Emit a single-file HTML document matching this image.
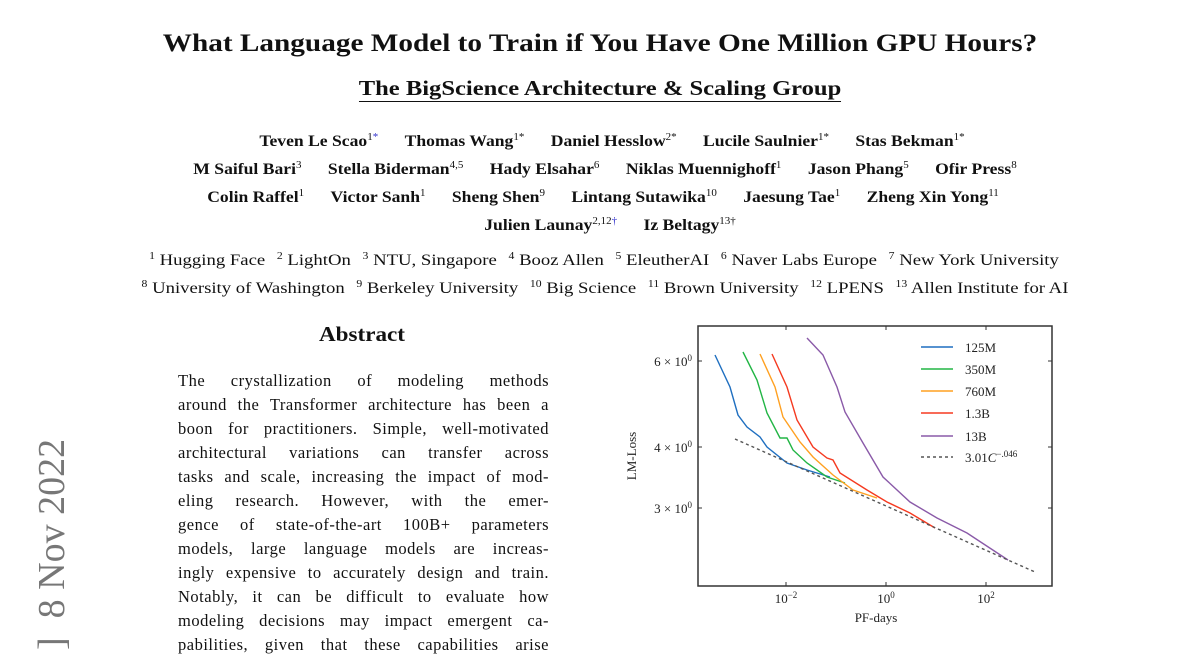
<!DOCTYPE html>
<html><head><meta charset="utf-8"><style>
body{margin:0;width:1200px;height:648px;background:#fff;overflow:hidden;position:relative;font-family:"Liberation Serif",serif;color:#111}
.c{position:absolute;left:0;width:1200px;text-align:center;white-space:nowrap;transform-origin:600px 0}
.t{font-weight:bold;font-size:25px;top:30px;transform:scaleX(1.17)}
.s{font-weight:bold;font-size:21px;top:76px;transform:scaleX(1.17)}
.s span{border-bottom:1.5px solid #111;padding-bottom:1px}
.a{font-weight:bold;font-size:16px;transform:scaleX(1.1)}
.a span{margin:0 12px}
sup{font-weight:normal;font-size:10px;vertical-align:6px;line-height:0}
.b{color:#33c}
.f{font-size:16px;transform:scaleX(1.17)}
.f span{margin:0 5px}
.abs{position:absolute;left:178px;width:371px;font-size:16.5px;line-height:24px;top:369px;letter-spacing:0.5px}
.abs div{text-align:justify;text-align-last:justify;height:24px;white-space:nowrap}
.date{position:absolute;left:30px;top:650px;transform:rotate(-90deg);transform-origin:0 0;font-size:38px;color:#777;white-space:nowrap}
</style></head><body>
<div class="c t">What Language Model to Train if You Have One Million GPU Hours?</div>
<div class="c s"><span>The BigScience Architecture &amp; Scaling Group</span></div>
<div class="c a" style="top:133px;left:12px"><span>Teven Le Scao<sup>1<span class="b" style="margin:0">*</span></sup></span><span>Thomas Wang<sup>1*</sup></span><span>Daniel Hesslow<sup>2*</sup></span><span>Lucile Saulnier<sup>1*</sup></span><span>Stas Bekman<sup>1*</sup></span></div>
<div class="c a" style="top:161px;left:5px"><span>M Saiful Bari<sup>3</sup></span><span>Stella Biderman<sup>4,5</sup></span><span>Hady Elsahar<sup>6</sup></span><span>Niklas Muennighoff<sup>1</sup></span><span>Jason Phang<sup>5</sup></span><span>Ofir Press<sup>8</sup></span></div>
<div class="c a" style="top:189px;left:3px"><span>Colin Raffel<sup>1</sup></span><span>Victor Sanh<sup>1</sup></span><span>Sheng Shen<sup>9</sup></span><span>Lintang Sutawika<sup>10</sup></span><span>Jaesung Tae<sup>1</sup></span><span>Zheng Xin Yong<sup>11</sup></span></div>
<div class="c a" style="top:217px;left:10px"><span>Julien Launay<sup>2,12<span class="b" style="margin:0">†</span></sup></span><span>Iz Beltagy<sup>13†</sup></span></div>
<div class="c f" style="top:252px;left:4px"><span><sup>1</sup> Hugging Face</span><span><sup>2</sup> LightOn</span><span><sup>3</sup> NTU, Singapore</span><span><sup>4</sup> Booz Allen</span><span><sup>5</sup> EleutherAI</span><span><sup>6</sup> Naver Labs Europe</span><span><sup>7</sup> New York University</span></div>
<div class="c f" style="top:280px;left:5px"><span><sup>8</sup> University of Washington</span><span><sup>9</sup> Berkeley University</span><span><sup>10</sup> Big Science</span><span><sup>11</sup> Brown University</span><span><sup>12</sup> LPENS</span><span><sup>13</sup> Allen Institute for AI</span></div>
<div style="position:absolute;left:319px;top:322px;font-weight:bold;font-size:21px;transform:scaleX(1.1);transform-origin:0 0">Abstract</div>
<div class="abs">
<div>The crystallization of modeling methods</div>
<div>around the Transformer architecture has been a</div>
<div>boon for practitioners. Simple, well-motivated</div>
<div>architectural variations can transfer across</div>
<div>tasks and scale, increasing the impact of mod-</div>
<div>eling research. However, with the emer-</div>
<div>gence of state-of-the-art 100B+ parameters</div>
<div>models, large language models are increas-</div>
<div>ingly expensive to accurately design and train.</div>
<div>Notably, it can be difficult to evaluate how</div>
<div>modeling decisions may impact emergent ca-</div>
<div>pabilities, given that these capabilities arise</div>
</div>
<div class="date">]&nbsp;&nbsp;8 Nov 2022</div>
<svg style="position:absolute;left:0;top:0" width="1200" height="648" font-family="Liberation Serif,serif">
<rect x="698" y="326" width="354" height="260" fill="none" stroke="#333" stroke-width="1.5"/>
<g stroke="#333" stroke-width="1">
<line x1="698" y1="361" x2="702" y2="361"/><line x1="698" y1="447" x2="702" y2="447"/><line x1="698" y1="508" x2="702" y2="508"/>
<line x1="1052" y1="361" x2="1048" y2="361"/><line x1="1052" y1="447" x2="1048" y2="447"/><line x1="1052" y1="508" x2="1048" y2="508"/>
<line x1="786" y1="586" x2="786" y2="582"/><line x1="886" y1="586" x2="886" y2="582"/><line x1="986" y1="586" x2="986" y2="582"/>
<line x1="786" y1="326" x2="786" y2="330"/><line x1="886" y1="326" x2="886" y2="330"/><line x1="986" y1="326" x2="986" y2="330"/>
</g>
<g font-size="13" fill="#222" text-anchor="end">
<text x="692" y="366">6 × 10<tspan dy="-5" font-size="9">0</tspan></text>
<text x="692" y="452">4 × 10<tspan dy="-5" font-size="9">0</tspan></text>
<text x="692" y="513">3 × 10<tspan dy="-5" font-size="9">0</tspan></text>
</g>
<g font-size="13" fill="#222" text-anchor="middle">
<text x="786" y="603">10<tspan dy="-5" font-size="9">−2</tspan></text>
<text x="886" y="603">10<tspan dy="-5" font-size="9">0</tspan></text>
<text x="986" y="603">10<tspan dy="-5" font-size="9">2</tspan></text>
<text x="876" y="622">PF-days</text>
<text transform="translate(636,456) rotate(-90)">LM-Loss</text>
</g>
<g fill="none" stroke-width="1.4">
<polyline stroke="#1f6fc0" points="715,355 730,387 738,415 747,427 760,437 767,447 787,463 807,470 830,477"/>
<polyline stroke="#22b545" points="743,352 757,380 767,413 780,438 787,438 793,450 807,463 827,477 845,483"/>
<polyline stroke="#ffa020" points="760,354 775,387 783,417 800,442 813,457 833,475 853,490 877,498"/>
<polyline stroke="#f53a20" points="772,354 787,387 797,420 813,447 827,458 833,460 840,473 867,490 887,502 910,513 935,528"/>
<polyline stroke="#8a5aa8" points="807,338 823,355 837,387 845,412 863,443 883,477 910,502 937,518 967,533 1008,560"/>
<line x1="735" y1="439" x2="1035" y2="572" stroke="#555" stroke-dasharray="3,3"/>
<line x1="921" y1="347" x2="953" y2="347" stroke="#1f6fc0"/>
<line x1="921" y1="369" x2="953" y2="369" stroke="#22b545"/>
<line x1="921" y1="391" x2="953" y2="391" stroke="#ffa020"/>
<line x1="921" y1="413" x2="953" y2="413" stroke="#f53a20"/>
<line x1="921" y1="436" x2="953" y2="436" stroke="#8a5aa8"/>
<line x1="921" y1="457" x2="953" y2="457" stroke="#555" stroke-dasharray="3,3"/>
</g>
<g font-size="13" fill="#222">
<text x="965" y="352">125M</text><text x="965" y="374">350M</text><text x="965" y="396">760M</text>
<text x="965" y="418">1.3B</text><text x="965" y="441">13B</text>
<text x="965" y="462">3.01<tspan font-style="italic">C</tspan><tspan dy="-5" font-size="9">−.046</tspan></text>
</g>
</svg>
</body></html>
